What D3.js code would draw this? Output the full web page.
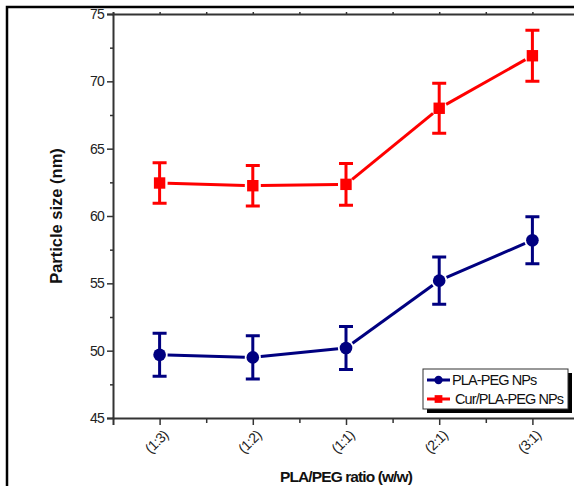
<!DOCTYPE html>
<html>
<head>
    <meta charset="UTF-8">
    <title></title>
    <style>
        body { margin: 0; background: #fff; }
        text { font-family: "Liberation Sans", Arial, sans-serif; }
    </style>
</head>
<body>
<script src="https://cdn.jsdelivr.net/npm/d3@7"></script>
<script>

    var categories = ['(1:3)', '(1:2)', '(1:1)', '(2:1)', '(3:1)'];
    var plaPeg = [49.7, 49.5, 50.2, 55.2, 58.2];
    var plaPegErr = [1.6, 1.6, 1.6, 1.75, 1.75];
    var curPlaPeg = [62.45, 62.25, 62.35, 68.0, 71.9];
    var curPlaPegErr = [1.5, 1.5, 1.55, 1.85, 1.9];
    var yTicks = [45, 50, 55, 60, 65, 70, 75];

    var w = 574,
        h = 486;
    var plotLeft = 113, plotTop = 14, plotBottom = 418, plotRight = 579;

    var svg = d3.select('body').append('svg')
            .attr('width', w)
            .attr('height', h);

    // outer frame (cut on right and bottom)
    svg.append('rect')
            .attr('x', 7).attr('y', 7)
            .attr('width', 600).attr('height', 600)
            .attr('fill', 'none')
            .attr('stroke', '#000')
            .attr('stroke-width', 2.5);

    var x = d3.scaleLinear().domain([-0.5, categories.length - 0.5]).range([plotLeft, plotRight]);
    var y = d3.scaleLinear().domain([45, 75]).range([plotBottom, plotTop]);

    var axisColor = '#333';

    // y axis
    var yAxis = svg.append('g').attr('transform', 'translate(' + plotLeft + ',0)')
            .call(d3.axisLeft(y).tickValues(yTicks).tickSize(6).tickPadding(3));
    svg.append('g').attr('transform', 'translate(' + plotLeft + ',0)')
            .call(d3.axisLeft(y).tickValues(d3.range(47.5, 75, 5)).tickSize(3).tickFormat(''))
            .select('.domain').remove();

    // x axis
    var xAxis = svg.append('g').attr('transform', 'translate(0,' + plotBottom + ')')
            .call(d3.axisBottom(x).tickValues(d3.range(categories.length))
                .tickSize(7).tickFormat(function(d) { return categories[d]; }));
    svg.append('g').attr('transform', 'translate(0,' + plotBottom + ')')
            .call(d3.axisBottom(x).tickValues(d3.range(0.5, categories.length, 1)).tickSize(5).tickFormat(''))
            .select('.domain').remove();

    // top axis
    svg.append('g').attr('transform', 'translate(0,' + plotTop + ')')
            .call(d3.axisTop(x).tickValues(d3.range(0, categories.length, 0.5)).tickSize(2).tickFormat(''));

    svg.selectAll('.domain').attr('stroke', axisColor).attr('stroke-width', 2);
    svg.selectAll('.tick line').attr('stroke', axisColor).attr('stroke-width', 1.5);

    yAxis.selectAll('text')
            .attr('font-size', '14px')
            .attr('letter-spacing', '-0.8px')
            .attr('fill', '#222');

    xAxis.selectAll('text')
            .attr('font-size', '14px')
            .attr('letter-spacing', '-0.6px')
            .attr('fill', '#222')
            .attr('text-anchor', 'end')
            .attr('dy', null)
            .attr('y', 0)
            .attr('transform', 'translate(9,18) rotate(-45)');

    // axis titles
    svg.append('text')
            .text('Particle size (nm)')
            .attr('transform', 'translate(62,' + ((plotTop + plotBottom) / 2) + ') rotate(-90)')
            .attr('text-anchor', 'middle')
            .attr('font-size', '16.5px')
            .attr('font-weight', 'bold')
            .attr('fill', '#111');

    svg.append('text')
            .text('PLA/PEG ratio (w/w)')
            .attr('x', 346).attr('y', 482)
            .attr('text-anchor', 'middle')
            .attr('font-size', '15.5px')
            .attr('font-weight', 'bold')
            .attr('letter-spacing', '-0.9px')
            .attr('fill', '#111');

    var series = [
        {name: 'PLA-PEG NPs', values: plaPeg, err: plaPegErr, color: '#000080', shape: 'circle'},
        {name: 'Cur/PLA-PEG NPs', values: curPlaPeg, err: curPlaPegErr, color: '#ff0000', shape: 'square'}
    ];

    var gap = 8;

    series.forEach(function(s) {
        var g = svg.append('g');
        var pts = s.values.map(function(v, i) { return [x(i), y(v)]; });

        // connecting segments with a gap around markers
        for (var i = 0; i < pts.length - 1; i++) {
            var a = pts[i], b = pts[i + 1];
            var dx = b[0] - a[0], dy = b[1] - a[1];
            var len = Math.sqrt(dx * dx + dy * dy);
            g.append('line')
                    .attr('x1', a[0] + dx / len * gap)
                    .attr('y1', a[1] + dy / len * gap)
                    .attr('x2', b[0] - dx / len * gap)
                    .attr('y2', b[1] - dy / len * gap)
                    .attr('stroke', s.color)
                    .attr('stroke-width', 3);
        }

        // error bars
        g.selectAll('.err')
                .data(s.values)
                .enter()
                .append('path')
                .attr('d', function(d, i) {
                    var cx = x(i), y1 = y(d + s.err[i]), y2 = y(d - s.err[i]);
                    return 'M' + (cx - 7) + ',' + y1 + 'H' + (cx + 7) +
                        'M' + cx + ',' + y1 + 'V' + y2 +
                        'M' + (cx - 7) + ',' + y2 + 'H' + (cx + 7);
                })
                .attr('fill', 'none')
                .attr('stroke', s.color)
                .attr('stroke-width', 3);

        // markers
        g.selectAll('.mk')
                .data(s.values)
                .enter()
                .append('path')
                .attr('transform', function(d, i) { return 'translate(' + x(i) + ',' + y(d) + ')'; })
                .attr('d', d3.symbol().type(s.shape === 'circle' ? d3.symbolCircle : d3.symbolSquare).size(s.shape === 'circle' ? 125 : 130))
                .attr('fill', s.color);
    });

    // legend
    var lx = 423, ly = 369, lw = 145, lh = 40;
    svg.append('rect')
            .attr('x', lx + 4).attr('y', ly + 4)
            .attr('width', lw).attr('height', lh)
            .attr('fill', '#000');
    svg.append('rect')
            .attr('x', lx).attr('y', ly)
            .attr('width', lw).attr('height', lh)
            .attr('fill', '#fff')
            .attr('stroke', '#333')
            .attr('stroke-width', 1);

    var legendText = ['PLA-PEG NPs', ' Cur/PLA-PEG NPs'];
    series.forEach(function(s, i) {
        var yy = ly + 11 + i * 19;
        svg.append('line')
                .attr('x1', lx + 4).attr('x2', lx + 27)
                .attr('y1', yy).attr('y2', yy)
                .attr('stroke', s.color)
                .attr('stroke-width', 3);
        svg.append('path')
                .attr('transform', 'translate(' + (lx + 15.5) + ',' + yy + ')')
                .attr('d', d3.symbol().type(s.shape === 'circle' ? d3.symbolCircle : d3.symbolSquare).size(s.shape === 'circle' ? 55 : 60))
                .attr('fill', s.color);
        svg.append('text')
                .text(legendText[i])
                .attr('x', lx + (i === 0 ? 29 : 32))
                .attr('y', yy + 5)
                .attr('font-size', '14.5px')
                .attr('letter-spacing', '-0.9px')
                .attr('fill', '#111');
    });

</script>
</body>
</html>
